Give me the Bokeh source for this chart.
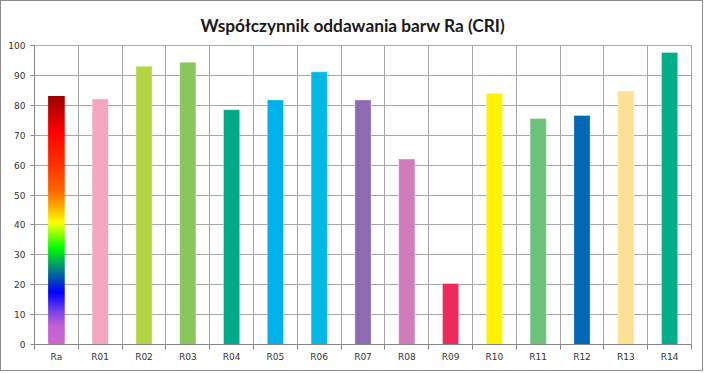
from bokeh.plotting import figure
from bokeh.models import FixedTicker, Title, ColumnDataSource
from bokeh.embed import file_html
from bokeh.resources import INLINE

title_text = "Współczynnik oddawania barw Ra (CRI)"
categories = ["Ra", "R01", "R02", "R03", "R04", "R05", "R06", "R07",
              "R08", "R09", "R10", "R11", "R12", "R13", "R14"]
values = [83.1, 82.1, 93.1, 94.4, 78.5, 81.8, 91.2, 81.8,
          62.0, 20.4, 84.0, 75.6, 76.6, 84.8, 97.7]
colors = [None, "#f4a6c0", "#b5d444", "#8ac65c", "#00a98a", "#00b0ea",
          "#00b8e2", "#8e6bb0", "#d07cba", "#ee2a5c", "#fff200",
          "#6cc27a", "#0068b4", "#fde096", "#00ae8a"]
y_ticks = list(range(0, 101, 10))

# gradient stops for the Ra bar (fraction of bar height, colour)
grad_stops = [(0.00, "#cc66cc"), (0.07, "#c462d4"), (0.13, "#7f44e6"),
              (0.21, "#0000ff"), (0.30, "#008080"), (0.39, "#00ff00"),
              (0.49, "#ffff00"), (0.57, "#ff9900"), (0.62, "#ff6600"),
              (0.72, "#ff3300"), (0.86, "#ff0000"), (1.00, "#990000")]

def hex2rgb(h):
    return tuple(int(h[i:i + 2], 16) for i in (1, 3, 5))

def grad_color(f):
    for (f0, c0), (f1, c1) in zip(grad_stops[:-1], grad_stops[1:]):
        if f0 <= f <= f1:
            t = (f - f0) / (f1 - f0) if f1 > f0 else 0
            a, b = hex2rgb(c0), hex2rgb(c1)
            return "#%02x%02x%02x" % tuple(round(a[i] + (b[i] - a[i]) * t) for i in range(3))
    return grad_stops[-1][1]

n_cat = len(categories)
centers = [i + 0.5 for i in range(n_cat)]
bounds = list(range(n_cat + 1))

p = figure(width=703, height=371, x_range=(0, n_cat), y_range=(0, 100),
           output_backend="svg", toolbar_location=None,
           min_border_left=33, min_border_right=13, min_border_top=44,
           min_border_bottom=28, background_fill_color="white",
           border_fill_color="white")
p.styles = {"border": "1px solid #8c8c8c"}

p.add_layout(Title(text=title_text, align="left", text_font="Lato",
                   text_font_size="17.3px", text_font_style="bold",
                   text_color="#1a1a1a", standoff=19, offset=166), "above")

p.outline_line_color = "#a6a6a6"
p.outline_line_width = 1

# grids
p.xgrid.ticker = FixedTicker(ticks=bounds)
p.ygrid.ticker = FixedTicker(ticks=y_ticks)
for g in (p.xgrid, p.ygrid):
    g.grid_line_color = "#a6a6a6"
    g.grid_line_width = 1

# x axis
xa = p.xaxis[0]
xa.ticker = FixedTicker(ticks=centers, minor_ticks=bounds)
xa.major_label_overrides = {c: lab for c, lab in zip(centers, categories)}
xa.major_tick_line_color = None
xa.major_tick_out = 0
xa.major_tick_in = 0
xa.minor_tick_out = 5
xa.minor_tick_in = 0
xa.minor_tick_line_color = "#868686"
xa.axis_line_color = "#868686"
xa.major_label_standoff = 2
xa.major_label_text_font = "DejaVu Sans"
xa.major_label_text_font_size = "9px"
xa.major_label_text_color = "#333333"

# y axis
ya = p.yaxis[0]
ya.ticker = FixedTicker(ticks=y_ticks)
ya.major_tick_out = 4
ya.major_tick_in = 0
ya.minor_tick_line_color = None
ya.major_tick_line_color = "#868686"
ya.axis_line_color = "#868686"
ya.major_label_standoff = 5
ya.major_label_text_font = "DejaVu Sans"
ya.major_label_text_font_size = "9px"
ya.major_label_text_color = "#333333"

bar_w = 0.37

# solid bars
src = ColumnDataSource(dict(x=centers[1:], top=values[1:], color=colors[1:]))
p.vbar(x="x", top="top", width=bar_w, bottom=0, source=src,
       fill_color="color", line_color="white", line_alpha=0.35, line_width=1)

# gradient Ra bar (overlapping slices so no seams show)
n_slices = 120
ra_val = values[0]
g_bottom = [ra_val * k / n_slices for k in range(n_slices)]
g_top = [min(ra_val, ra_val * (k + 2) / n_slices) for k in range(n_slices)]
g_col = [grad_color((k + 0.5) / n_slices) for k in range(n_slices)]
gsrc = ColumnDataSource(dict(left=[centers[0] - bar_w / 2] * n_slices,
                             right=[centers[0] + bar_w / 2] * n_slices,
                             bottom=g_bottom, top=g_top, color=g_col))
p.quad(left="left", right="right", bottom="bottom", top="top", source=gsrc,
       fill_color="color", line_color=None)

open("out.html", "w").write(file_html(p, INLINE))
